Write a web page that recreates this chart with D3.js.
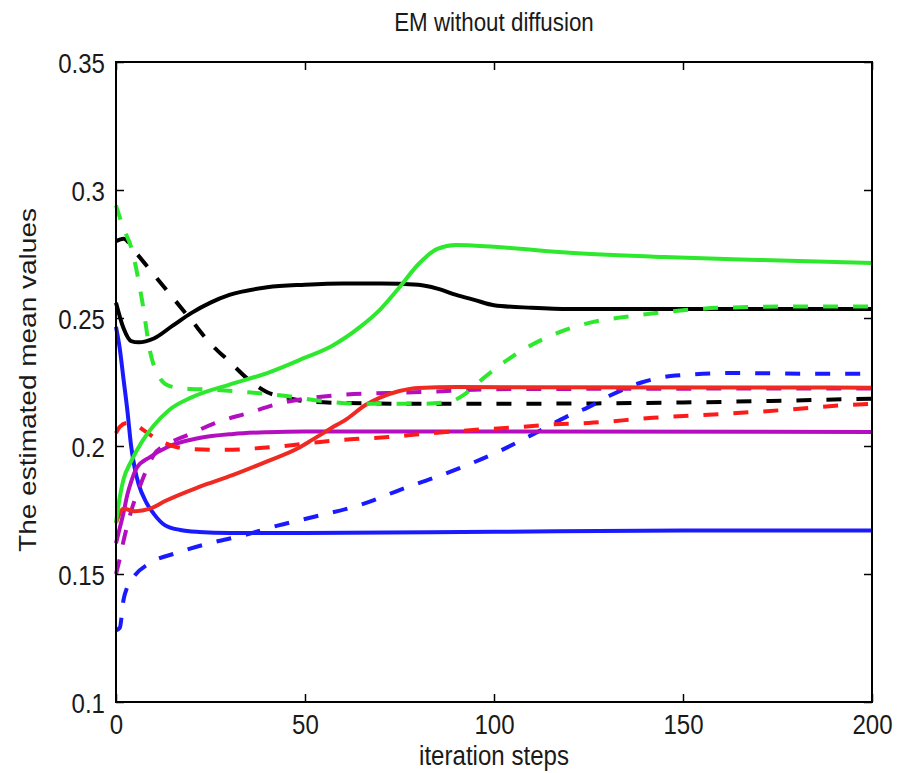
<!DOCTYPE html>
<html>
<head>
<meta charset="utf-8">
<script src="https://cdn.jsdelivr.net/npm/d3@7"></script>
<style>
  body { margin: 0; background: #fff; }
  text { font-family: "Liberation Sans", Arial, sans-serif; fill: #1a1a1a; }
</style>
</head>
<body>
<svg id="chart" width="899" height="773"></svg>
<script>
// tick values
var xTicks = [0, 50, 100, 150, 200];
var yTicks = [0.1, 0.15, 0.2, 0.25, 0.3, 0.35];

// (iteration step, estimated mean)
var blackSolidX = [0, 2, 4, 6, 10, 15, 20, 25, 30, 40, 50, 60, 70, 80, 85, 90, 95, 100, 110, 120, 150, 200];
var blackSolidY = [0.256, 0.246, 0.241, 0.2405, 0.242, 0.247, 0.252, 0.256, 0.259, 0.262, 0.263, 0.2635, 0.2635, 0.263, 0.2615, 0.259, 0.257, 0.255, 0.254, 0.2535, 0.2535, 0.2535];

var blackDashX = [0, 2, 5, 10, 15, 20, 25, 30, 35, 40, 45, 50, 60, 80, 100, 150, 200];
var blackDashY = [0.280, 0.281, 0.276, 0.267, 0.258, 0.249, 0.240, 0.233, 0.226, 0.221, 0.219, 0.2175, 0.2168, 0.2165, 0.2165, 0.217, 0.2185];

var greenSolidX = [0, 1, 2, 4, 7, 10, 14, 20, 30, 40, 50, 57, 65, 70, 75, 80, 85, 90, 100, 120, 145, 170, 200];
var greenSolidY = [0.170, 0.180, 0.187, 0.194, 0.202, 0.208, 0.214, 0.219, 0.224, 0.2285, 0.2345, 0.239, 0.247, 0.2535, 0.262, 0.271, 0.277, 0.2785, 0.2778, 0.2755, 0.2738, 0.2727, 0.2715];

var greenDashX = [0, 2, 4, 7, 9, 11, 14, 18, 25, 35, 45, 55, 65, 80, 88, 92, 96, 102, 109, 117, 126, 135, 145, 160, 180, 200];
var greenDashY = [0.294, 0.285, 0.2777, 0.256, 0.237, 0.228, 0.2235, 0.2225, 0.222, 0.221, 0.2195, 0.2175, 0.2165, 0.2165, 0.2172, 0.220, 0.225, 0.232, 0.2387, 0.2443, 0.2484, 0.2505, 0.2523, 0.254, 0.2545, 0.2545];

var blueSolidX = [0, 1, 2, 3, 4, 5, 6, 8, 10, 13, 17, 22, 30, 50, 100, 150, 200];
var blueSolidY = [0.2465, 0.238, 0.226, 0.214, 0.200, 0.191, 0.185, 0.178, 0.1735, 0.169, 0.1672, 0.1664, 0.166, 0.166, 0.1665, 0.167, 0.167];

var blueDashX = [0, 1, 2, 3, 5, 9, 16, 25, 34, 43, 50, 66, 75, 84, 93, 102, 110, 119, 125, 131, 139, 148, 164, 184, 200];
var blueDashY = [0.128, 0.129, 0.140, 0.145, 0.1495, 0.1543, 0.1582, 0.1621, 0.1652, 0.169, 0.1715, 0.1777, 0.1828, 0.1875, 0.1926, 0.1984, 0.2043, 0.2113, 0.2152, 0.2199, 0.2248, 0.2275, 0.2285, 0.2282, 0.2282];

var redSolidX = [0, 2, 5, 9, 13, 22, 31, 40, 48, 52, 57, 61, 66, 70, 75, 80, 90, 200];
var redSolidY = [0.170, 0.1755, 0.1745, 0.1755, 0.1785, 0.184, 0.1887, 0.194, 0.199, 0.2025, 0.207, 0.2105, 0.216, 0.219, 0.2215, 0.2227, 0.223, 0.2228];

var redDashX = [0, 1, 3, 5, 7, 11, 15, 20, 29, 38, 47, 54, 63, 72, 81, 98, 107, 116, 125, 142, 160, 176, 193, 200];
var redDashY = [0.205, 0.2075, 0.209, 0.2085, 0.2065, 0.2025, 0.200, 0.1988, 0.1985, 0.1992, 0.2004, 0.2016, 0.2027, 0.2035, 0.2047, 0.2066, 0.2074, 0.2085, 0.209, 0.211, 0.2125, 0.214, 0.216, 0.2165];

var magentaSolidX = [0, 1, 2, 3, 4, 5.5, 9, 13.5, 22, 31, 40, 50, 200];
var magentaSolidY = [0.162, 0.168, 0.174, 0.181, 0.186, 0.1915, 0.1957, 0.1995, 0.2031, 0.2047, 0.2054, 0.2057, 0.2055];

var magentaDashX = [0, 1, 2, 3, 4, 6, 8, 10, 14, 19, 27, 35, 43, 59, 72, 85, 100, 200];
var magentaDashY = [0.150, 0.156, 0.163, 0.169, 0.1745, 0.183, 0.1905, 0.1965, 0.201, 0.2043, 0.2094, 0.2129, 0.2165, 0.2199, 0.2207, 0.2213, 0.2222, 0.2225];

var series = [
  { x: blackDashX, y: blackDashY, color: "#000000", dash: true },
  { x: blackSolidX, y: blackSolidY, color: "#000000", dash: false },
  { x: blueDashX, y: blueDashY, color: "#1a1aff", dash: true },
  { x: blueSolidX, y: blueSolidY, color: "#1a1aff", dash: false },
  { x: magentaDashX, y: magentaDashY, color: "#b30fc0", dash: true },
  { x: magentaSolidX, y: magentaSolidY, color: "#b30fc0", dash: false },
  { x: redDashX, y: redDashY, color: "#ff1a1a", dash: true },
  { x: redSolidX, y: redSolidY, color: "#ee2a22", dash: false },
  { x: greenDashX, y: greenDashY, color: "#2ee82e", dash: true },
  { x: greenSolidX, y: greenSolidY, color: "#2ee82e", dash: false }
];

(function(){
  var pLeft = 116, pRight = 872, pTop = 62, pBottom = 702;
  var svg = d3.select("#chart");

  var x = d3.scaleLinear().domain([0, 200]).range([pLeft, pRight]);
  var y = d3.scaleLinear().domain([0.1, 0.35]).range([pBottom, pTop]);

  // lines
  var line = d3.line()
    .x(function(d) { return x(d[0]); })
    .y(function(d) { return y(d[1]); })
    .curve(d3.curveMonotoneX);

  svg.append("g").selectAll("path").data(series).enter().append("path")
    .attr("d", function(s) { return line(d3.zip(s.x, s.y)); })
    .attr("fill", "none")
    .attr("stroke", function(s) { return s.color; })
    .attr("stroke-width", 4)
    .attr("stroke-dasharray", function(s) { return s.dash ? "15,15" : null; });

  // axes (MATLAB style: ticks inward on all four sides)
  var gx = svg.append("g").attr("transform", "translate(0," + pBottom + ")")
    .call(d3.axisBottom(x).tickValues(xTicks).tickSizeInner(-8).tickSizeOuter(0));
  var gy = svg.append("g").attr("transform", "translate(" + pLeft + ",0)")
    .call(d3.axisLeft(y).tickValues(yTicks).tickSizeInner(-8).tickSizeOuter(0).tickFormat(d3.format("~g")));
  svg.append("g").attr("transform", "translate(0," + pTop + ")")
    .call(d3.axisTop(x).tickValues(xTicks).tickSizeInner(-8).tickSizeOuter(0).tickFormat(""));
  svg.append("g").attr("transform", "translate(" + pRight + ",0)")
    .call(d3.axisRight(y).tickValues(yTicks).tickSizeInner(-8).tickSizeOuter(0).tickFormat(""));

  svg.selectAll(".domain").remove();
  svg.selectAll(".tick line").attr("stroke", "#000").attr("stroke-width", 1.5);

  gx.selectAll("text")
    .attr("y", 0).attr("dy", null)
    .attr("transform", "translate(0,32) scale(0.86,1)")
    .attr("font-size", 28).attr("fill", "#1a1a1a");
  gy.selectAll("text")
    .attr("x", 0).attr("dy", null)
    .attr("transform", "translate(-11,10) scale(0.86,1)")
    .attr("font-size", 28).attr("fill", "#1a1a1a");

  svg.append("rect")
    .attr("x", pLeft).attr("y", pTop)
    .attr("width", pRight - pLeft).attr("height", pBottom - pTop)
    .attr("fill", "none").attr("stroke", "#000").attr("stroke-width", 2);

  // titles
  svg.append("text")
    .attr("transform", "translate(" + ((pLeft + pRight) / 2) + ",31) scale(0.86,1)")
    .attr("text-anchor", "middle").attr("font-size", 26)
    .text("EM without diffusion");
  svg.append("text")
    .attr("transform", "translate(" + ((pLeft + pRight) / 2) + ",765) scale(0.86,1)")
    .attr("text-anchor", "middle").attr("font-size", 28)
    .text("iteration steps");
  svg.append("text")
    .attr("transform", "translate(36,380) rotate(-90) scale(1,0.86)")
    .attr("text-anchor", "middle").attr("font-size", 28)
    .text("The estimated mean values");
})();
</script>
</body>
</html>
